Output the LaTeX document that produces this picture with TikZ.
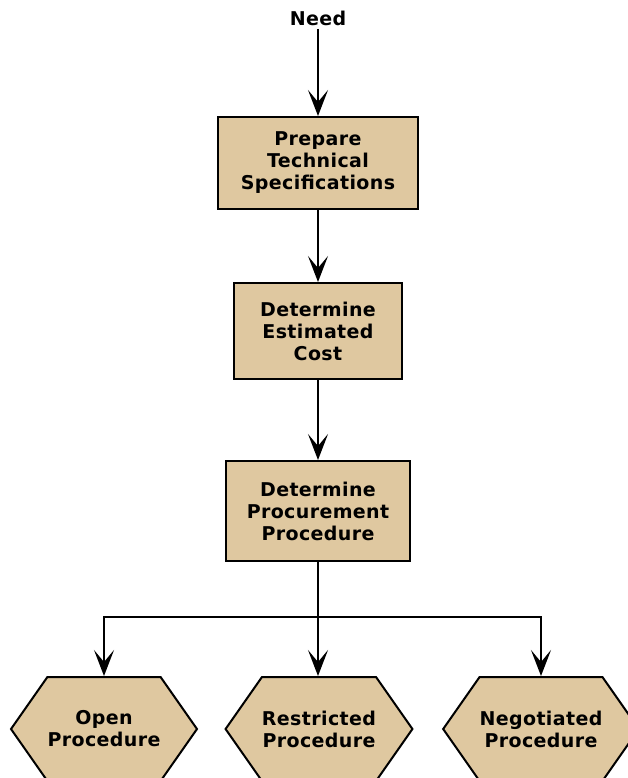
\documentclass[tikz,border=0pt]{standalone}
\usepackage{fontspec}
\setmainfont{DejaVu Sans}
\usepackage{tikz}
\usetikzlibrary{arrows.meta,shapes.symbols}
\definecolor{tan}{RGB}{223,200,160}

\begin{document}
\begin{tikzpicture}[x=1pt,y=-1pt,
    every node/.style={align=center,font=\bfseries\addfontfeature{LetterSpace=2}\fontsize{19}{22}\selectfont},
    box/.style={draw,line width=2pt,fill=tan,inner sep=0pt},
    hexa/.style={draw,line width=2pt,fill=tan,shape=signal,signal to=east and west,signal from=nowhere,
        signal pointer angle=110,minimum width=186pt,minimum height=104pt,inner sep=0pt},
    arr/.style={line width=2pt,-{Stealth[length=26pt,width=20pt,inset=12pt]}}]
\useasboundingbox (0,0) rectangle (628,778);
\node (need) at (318,18) {Need};
\node[box,minimum width=200pt,minimum height=92pt] (spec) at (318,163) {Prepare\\Technical\\Specifications};
\node[box,minimum width=168pt,minimum height=96pt] (cost) at (318,331) {Determine\\Estimated\\Cost};
\node[box,minimum width=184pt,minimum height=100pt] (proc) at (318,511) {Determine\\Procurement\\Procedure};
\node[hexa] (open) at (104,729) {Open\\Procedure};
\node[hexa] (restr) at (319,729) {Restricted\\Procedure};
\node[hexa] (nego) at (541,729) {Negotiated\\Procedure};
\coordinate (fork) at (318,617);
\draw[arr] (need) -- (spec);
\draw[arr] (spec) -- (cost);
\draw[arr] (cost) -- (proc);
\draw[line width=2pt] (proc) -- (fork);
\draw[arr] (fork) -| (open.north);
\draw[arr] (fork) -- (restr.north -| fork);
\draw[arr] (fork) -| (nego.north);
\end{tikzpicture}
\end{document}
